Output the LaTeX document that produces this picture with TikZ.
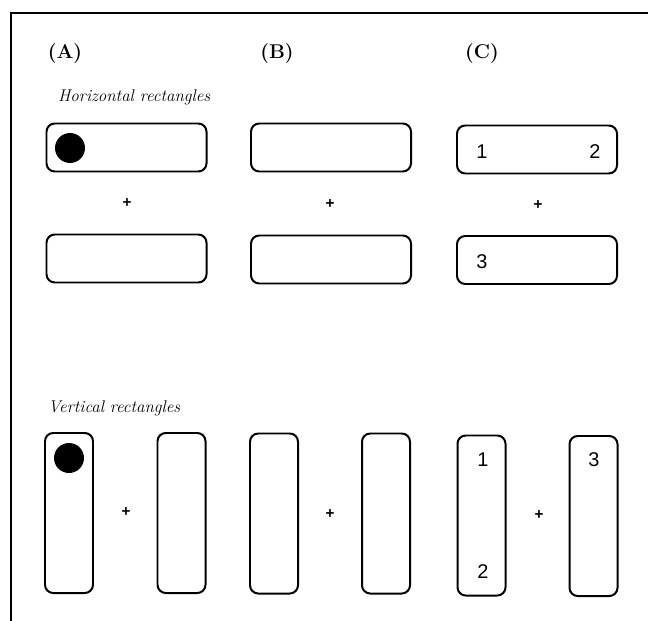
\documentclass[tikz,border=0pt]{standalone}
\usepackage{fontspec}
\newfontfamily\numfont{Liberation Sans}
\usepackage{tikz}

\begin{document}
\begin{tikzpicture}[x=0.03cm, y=-0.03cm,
  hrect/.style={draw, rounded corners=7pt, line width=1.7pt, minimum width=4.8cm, minimum height=1.44cm},
  vrect/.style={draw, rounded corners=7pt, line width=1.7pt, minimum width=1.44cm, minimum height=4.8cm},
  dot/.style={circle, fill, inner sep=0pt, minimum size=0.9cm},
  plus/.style={font=\numfont\bfseries\fontsize{13}{15}\selectfont},
  num/.style={font=\numfont\fontsize{17}{20}\selectfont},
  head/.style={font=\bfseries\fontsize{17}{20}\selectfont},
  caption/.style={anchor=west, font=\itshape\fontsize{14.5}{17}\selectfont}]
\useasboundingbox (0,0) rectangle (648,621);
\draw[line width=1.7pt] (11,621) -- (11,13) -- (648,13);

\node[head] (hA) at (65,54) {(A)};
\node[head] (hB) at (277,54) {(B)};
\node[head] (hC) at (482,54) {(C)};

% horizontal rectangles
\node[caption] (hcap) at (54,97) {Horizontal rectangles};
\node[hrect] (hA1) at (126.5,147.5) {};
\node[hrect] (hA2) at (126.5,258.5) {};
\node[hrect] (hB1) at (331,147.5) {};
\node[hrect] (hB2) at (331,259.5) {};
\node[hrect] (hC1) at (537,149.5) {};
\node[hrect] (hC2) at (537,260) {};
\node[dot] (hdot) at (70,148) {};
\node[plus] (hpA) at (127,203) {+};
\node[plus] (hpB) at (330,204) {+};
\node[plus] (hpC) at (538,205) {+};
\node[num] (h1) at (482,152) {1};
\node[num] (h2) at (595,152) {2};
\node[num] (h3) at (482,262) {3};

% vertical rectangles
\node[caption] (vcap) at (44,408) {Vertical rectangles};
\node[vrect] (vA1) at (69,513) {};
\node[vrect] (vA2) at (181.5,513) {};
\node[vrect] (vB1) at (274,513.5) {};
\node[vrect] (vB2) at (386,513.5) {};
\node[vrect] (vC1) at (481.5,515.5) {};
\node[vrect] (vC2) at (593.5,516) {};
\node[dot] (vdot) at (69,458) {};
\node[plus] (vpA) at (126,512) {+};
\node[plus] (vpB) at (330,514) {+};
\node[plus] (vpC) at (539,515) {+};
\node[num] (v1) at (483,460) {1};
\node[num] (v2) at (483,572) {2};
\node[num] (v3) at (594,460) {3};
\end{tikzpicture}
\end{document}
